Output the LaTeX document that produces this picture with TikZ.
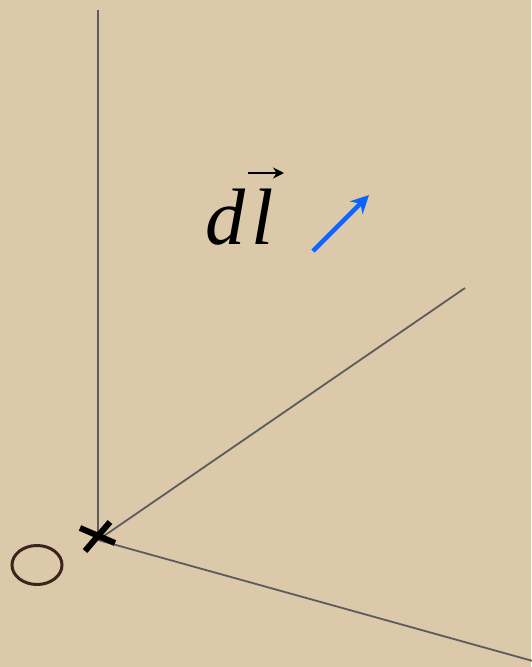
\documentclass[tikz,border=0pt]{standalone}
\usepackage{fontspec}
\setmainfont{Liberation Serif}
\usetikzlibrary{arrows.meta,shapes.geometric}
\definecolor{paper}{RGB}{219,201,170}
\definecolor{axisgray}{RGB}{92,92,92}
\definecolor{inkbrown}{RGB}{60,36,26}
\definecolor{vecblue}{RGB}{12,100,255}
\tikzset{
  axis/.style={draw=axisgray, line width=1.8pt},
  crossbar/.style={draw=black, line width=6pt},
  vecarrow/.style={draw=vecblue, line width=4.5pt, -{Stealth[length=18pt,width=18pt]}},
}
\begin{document}
\begin{tikzpicture}[x=1pt,y=-1pt]
\fill[paper] (0,0) rectangle (531,667);
\useasboundingbox (0,0) rectangle (531,667);
\coordinate (O) at (98,540);
\coordinate (zend) at (98,10);
\coordinate (yend) at (465,288);
\coordinate (xend) at (540,663);
\draw[axis] (O) -- (zend);
\draw[axis] (O) -- (yend);
\draw[axis] (O) -- (xend);
\coordinate (c1) at (80,528);
\coordinate (c2) at (115,543);
\coordinate (c3) at (110,522);
\coordinate (c4) at (85,551);
\draw[crossbar] (c1) -- (c2);
\draw[crossbar] (c3) -- (c4);
\node[draw=inkbrown, line width=3pt, ellipse, minimum width=50pt, minimum height=39pt, inner sep=0pt] (olabel) at (37,565) {};
\node[anchor=base west, inner sep=0pt, font=\fontsize{80}{80}\selectfont\itshape] (dl) at (205,244) {d\kern6pt l};
\coordinate (va) at (248,173);
\coordinate (vb) at (284,173);
\draw[black, line width=2.5pt, -{Stealth[length=11pt,width=11pt]}] (va) -- (vb);
\coordinate (ba) at (313,251);
\coordinate (bb) at (369,195);
\draw[vecarrow] (ba) -- (bb);
\end{tikzpicture}
\end{document}
